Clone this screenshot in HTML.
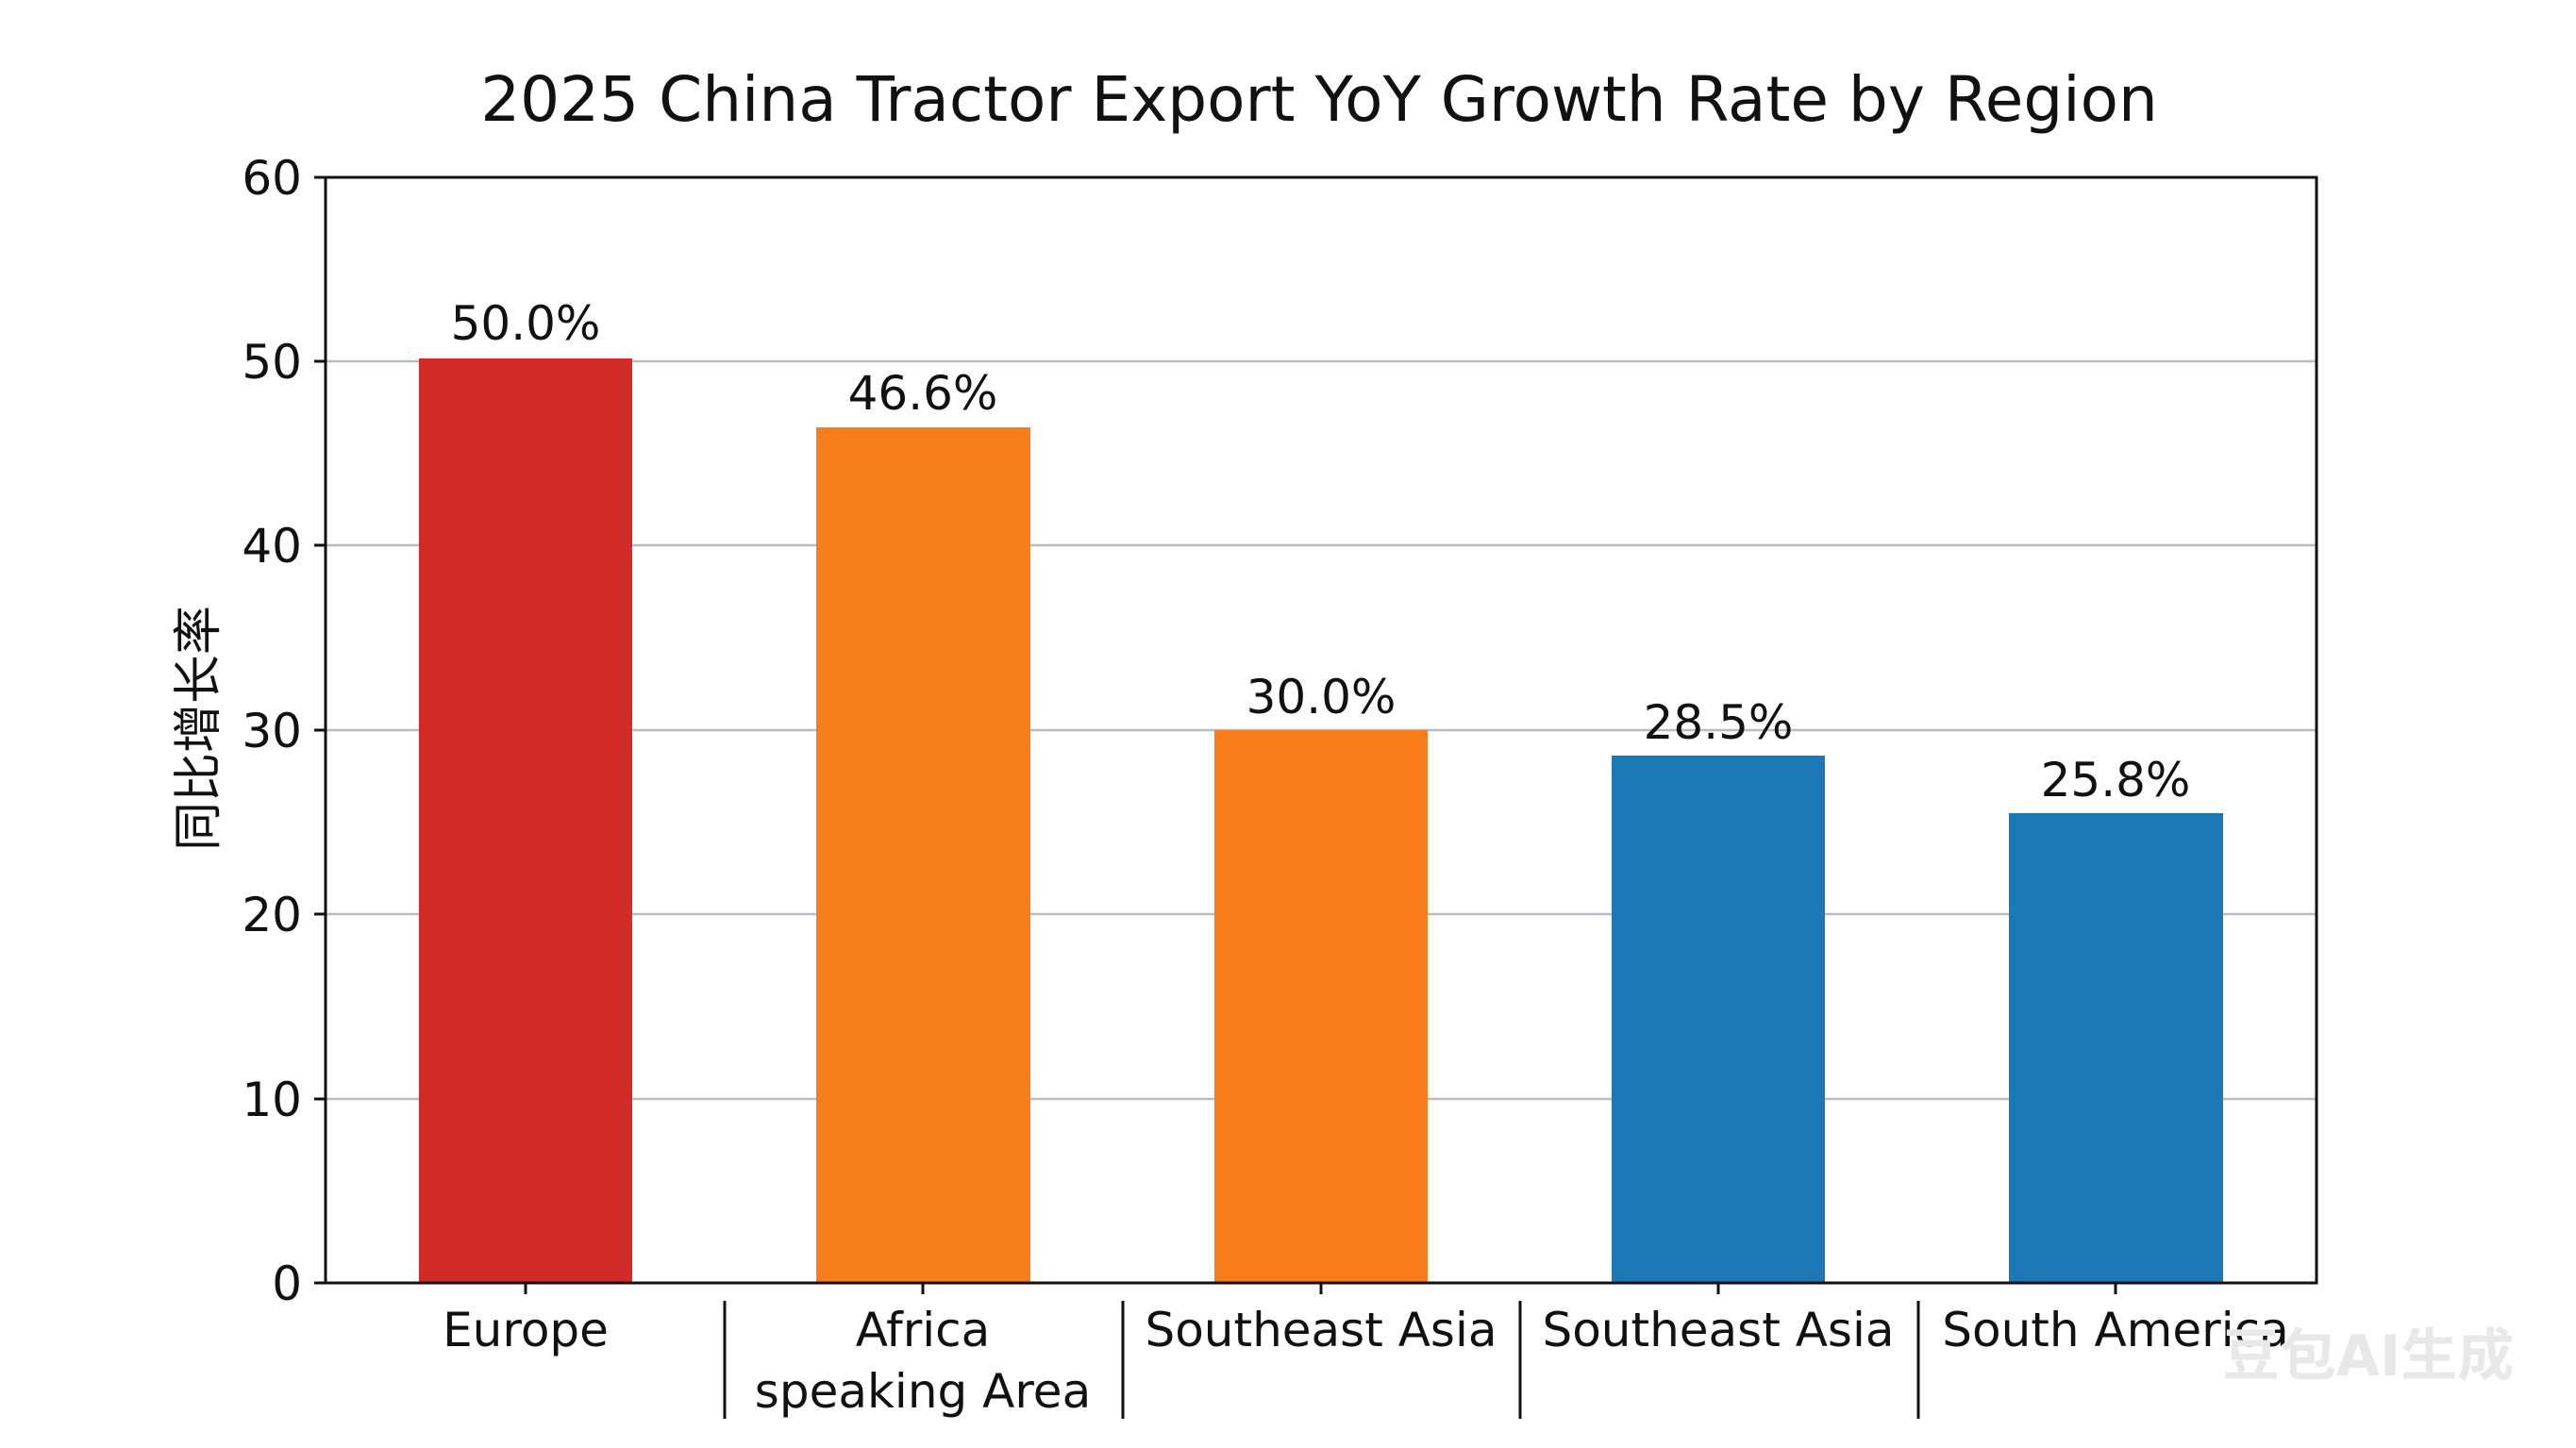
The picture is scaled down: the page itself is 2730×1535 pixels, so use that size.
<!DOCTYPE html>
<html><head><meta charset="utf-8"><style>
html,body{margin:0;padding:0;background:#fff;}
svg{display:block;}
text{font-family:"DejaVu Sans","Liberation Sans","Noto Sans CJK SC",sans-serif;fill:#111;}
</style></head><body>
<svg width="2730" height="1535" viewBox="0 0 2730 1535" xmlns="http://www.w3.org/2000/svg">
<rect width="2730" height="1535" fill="#fff"/>
<text x="1398" y="128" font-size="66" text-anchor="middle">2025 China Tractor Export YoY Growth Rate by Region</text>
<g stroke="#b8bcc4" stroke-width="2.5">
<line x1="345" y1="1165" x2="2455" y2="1165"/>
<line x1="345" y1="969" x2="2455" y2="969"/>
<line x1="345" y1="774" x2="2455" y2="774"/>
<line x1="345" y1="578" x2="2455" y2="578"/>
<line x1="345" y1="383" x2="2455" y2="383"/>
</g>
<rect x="444" y="380" width="226" height="980" fill="#d12a28"/>
<rect x="865" y="453" width="227" height="907" fill="#f87e1b"/>
<rect x="1287" y="774" width="226" height="586" fill="#f87d1a"/>
<rect x="1708" y="801" width="226" height="559" fill="#1f78b6"/>
<rect x="2129" y="862" width="227" height="498" fill="#1f78b6"/>
<rect x="345" y="188" width="2110" height="1172" fill="none" stroke="#111" stroke-width="3"/>
<g stroke="#111" stroke-width="3">
<line x1="333" y1="1360" x2="345" y2="1360"/>
<line x1="333" y1="1165" x2="345" y2="1165"/>
<line x1="333" y1="969" x2="345" y2="969"/>
<line x1="333" y1="774" x2="345" y2="774"/>
<line x1="333" y1="578" x2="345" y2="578"/>
<line x1="333" y1="383" x2="345" y2="383"/>
<line x1="333" y1="188" x2="345" y2="188"/>
<line x1="557" y1="1360" x2="557" y2="1372"/>
<line x1="978" y1="1360" x2="978" y2="1372"/>
<line x1="1400" y1="1360" x2="1400" y2="1372"/>
<line x1="1821" y1="1360" x2="1821" y2="1372"/>
<line x1="2242" y1="1360" x2="2242" y2="1372"/>
<line x1="768" y1="1379" x2="768" y2="1504"/>
<line x1="1190" y1="1379" x2="1190" y2="1504"/>
<line x1="1611" y1="1379" x2="1611" y2="1504"/>
<line x1="2033" y1="1379" x2="2033" y2="1504"/>
</g>
<g font-size="50" text-anchor="end">
<text x="320" y="1378">0</text>
<text x="320" y="1183">10</text>
<text x="320" y="987">20</text>
<text x="320" y="792">30</text>
<text x="320" y="596">40</text>
<text x="320" y="401">50</text>
<text x="320" y="206">60</text>
</g>
<text transform="translate(228,772) rotate(-90)" font-size="52" text-anchor="middle">同比增长率</text>
<g font-size="50" text-anchor="middle">
<text x="557" y="360">50.0%</text>
<text x="978" y="434">46.6%</text>
<text x="1400" y="756">30.0%</text>
<text x="1821" y="783">28.5%</text>
<text x="2242" y="844">25.8%</text>
<text x="557" y="1427">Europe</text>
<text x="978" y="1427">Africa</text>
<text x="978" y="1492">speaking Area</text>
<text x="1400" y="1427">Southeast Asia</text>
<text x="1821" y="1427">Southeast Asia</text>
<text x="2242" y="1427">South America</text>
</g>
<text x="2510" y="1458" font-size="60" text-anchor="middle" font-weight="bold" style="fill:#e8e8e8">豆包AI生成</text>
</svg>
</body></html>
